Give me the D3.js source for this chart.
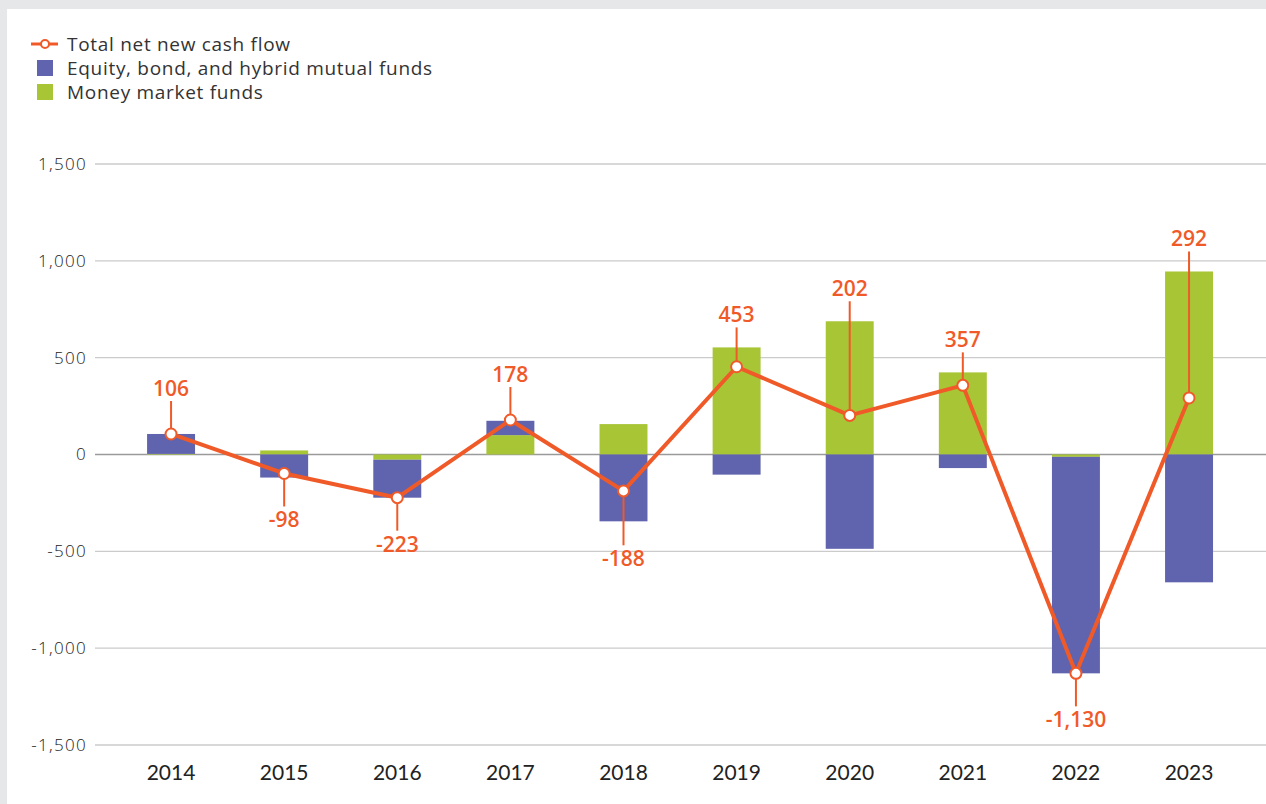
<!DOCTYPE html>
<html>
<head>
<meta charset="utf-8">
<script src="https://cdn.jsdelivr.net/npm/d3@7"></script>
<style>
  html, body { margin: 0; padding: 0; background: #e6e7e8; }
  svg { display: block; }
</style>
</head>
<body>
<svg id="chart" width="1266" height="804"></svg>
<script>
// Chart values
const years = ["2014", "2015", "2016", "2017", "2018", "2019", "2020", "2021", "2022", "2023"];
const moneyMarket = [3, 21, -27, 100, 157, 553, 688, 424, -12, 945];
const longTerm = [103, -119, -196, 74, -345, -104, -487, -70, -1118, -660];
const totalFlow = [106, -98, -223, 178, -188, 453, 202, 357, -1130, 292];
const yTicks = [-1500, -1000, -500, 0, 500, 1000, 1500];
const legendItems = [
  {key: "total", label: "Total net new cash flow"},
  {key: "longTerm", label: "Equity, bond, and hybrid mutual funds"},
  {key: "moneyMarket", label: "Money market funds"}
];

const COLORS = {
  ORANGE: "#f05a28",
  PURPLE: "#6063ad",
  GREEN: "#a8c536",
  GRID: "#cbcbcb",
  ZERO: "#9a9a9a",
  TEXT: "#333333"
};

const svg = d3.select("#chart");

// White panel, gray margin shows at top and left
svg.append("rect")
   .attr("x", 7)
   .attr("y", 9)
   .attr("width", 1266 - 7)
   .attr("height", 804 - 9)
   .style("fill", "#ffffff");

const x = d3.scaleBand()
            .domain(years)
            .range([114.5, 1245.6])
            .paddingInner(0.576)
            .paddingOuter(0.288);

const y = d3.scaleLinear()
            .domain([-1500, 1500])
            .range([745, 164]);

// Gridlines and y tick labels
const grid = svg.append("g");
grid.selectAll("line")
    .data(yTicks)
    .join("line")
    .attr("x1", 95)
    .attr("x2", 1266)
    .attr("y1", d => y(d))
    .attr("y2", d => y(d))
    .style("stroke", d => d === 0 ? COLORS.ZERO : COLORS.GRID)
    .style("stroke-width", "1.4px");

const fmt = d3.format(",");
grid.selectAll("text")
    .data(yTicks)
    .join("text")
    .attr("x", 87)
    .attr("y", d => y(d))
    .attr("dy", "0.35em")
    .attr("text-anchor", "end")
    .style("font-family", "'Open Sans', sans-serif")
    .style("font-weight", 300)
    .style("font-size", "17px")
    .style("letter-spacing", "1.3px")
    .style("fill", "#222222")
    .text(d => fmt(d).replace("−", "-"));

// Stacked bars, money market closest to zero
const rows = years.map((yr, i) => ({year: yr, moneyMarket: moneyMarket[i], longTerm: longTerm[i]}));
const stack = d3.stack()
                .keys(["moneyMarket", "longTerm"])
                .offset(d3.stackOffsetDiverging);
const series = stack(rows);
const fill = {moneyMarket: COLORS.GREEN, longTerm: COLORS.PURPLE};

svg.append("g")
   .selectAll("g")
   .data(series)
   .join("g")
   .style("fill", s => fill[s.key])
   .selectAll("rect")
   .data(s => s)
   .join("rect")
   .attr("x", d => x(d.data.year))
   .attr("width", x.bandwidth())
   .attr("y", d => y(Math.max(d[0], d[1])))
   .attr("height", d => Math.abs(y(d[0]) - y(d[1])));

// X axis labels
svg.append("g")
   .selectAll("text")
   .data(years)
   .join("text")
   .attr("x", d => x(d) + x.bandwidth() / 2)
   .attr("y", 773)
   .attr("dy", "0.35em")
   .attr("text-anchor", "middle")
   .style("font-family", "Lato, sans-serif")
   .style("font-size", "21px")
   .style("fill", "#222222")
   .text(d => d);

// Label leaders: go past the bar end, or at least a bit away from the point
const points = years.map((yr, i) => {
  const cx = x(yr) + x.bandwidth() / 2;
  const cy = y(totalFlow[i]);
  const up = totalFlow[i] >= 0;
  let end;
  if (up) {
    const top = y(Math.max(0, moneyMarket[i]) + Math.max(0, longTerm[i]));
    end = Math.min(top - 20, cy - 33);
  } else {
    const bottom = y(Math.min(0, moneyMarket[i]) + Math.min(0, longTerm[i]));
    end = Math.max(bottom + 24, cy + 33);
  }
  return {cx: cx, cy: cy, up: up, end: end, value: totalFlow[i]};
});

const labels = svg.append("g");
labels.selectAll("line")
      .data(points)
      .join("line")
      .attr("x1", d => d.cx)
      .attr("x2", d => d.cx)
      .attr("y1", d => d.cy)
      .attr("y2", d => d.end)
      .style("stroke", COLORS.ORANGE)
      .style("stroke-width", "2px");

labels.selectAll("text")
      .data(points)
      .join("text")
      .attr("x", d => d.cx)
      .attr("y", d => d.up ? d.end - 5 : d.end + 21)
      .attr("text-anchor", "middle")
      .style("font-family", "'Open Sans', sans-serif")
      .style("font-weight", 600)
      .style("font-size", "21px")
      .style("fill", COLORS.ORANGE)
      .text(d => fmt(d.value).replace("−", "-"));

// Total line with hollow markers
const line = d3.line()
               .x(d => d.cx)
               .y(d => d.cy);

svg.append("path")
   .datum(points)
   .attr("d", line)
   .style("fill", "none")
   .style("stroke", COLORS.ORANGE)
   .style("stroke-width", "4px")
   .style("stroke-linejoin", "round");

svg.append("g")
   .selectAll("circle")
   .data(points)
   .join("circle")
   .attr("cx", d => d.cx)
   .attr("cy", d => d.cy)
   .attr("r", 5.5)
   .style("fill", "#ffffff")
   .style("stroke", COLORS.ORANGE)
   .style("stroke-width", "2px");

// Legend
const legend = svg.append("g");
const rowY = i => 44 + i * 24;

legendItems.forEach((item, i) => {
  const cy = rowY(i);
  if (item.key === "total") {
    legend.append("line")
          .attr("x1", 31)
          .attr("x2", 58)
          .attr("y1", cy)
          .attr("y2", cy)
          .style("stroke", COLORS.ORANGE)
          .style("stroke-width", "3px");
    legend.append("circle")
          .attr("cx", 45)
          .attr("cy", cy)
          .attr("r", 4)
          .style("fill", "#ffffff")
          .style("stroke", COLORS.ORANGE)
          .style("stroke-width", "2px");
  } else {
    legend.append("rect")
          .attr("x", 37)
          .attr("y", cy - 8)
          .attr("width", 16)
          .attr("height", 16)
          .style("fill", item.key === "longTerm" ? COLORS.PURPLE : COLORS.GREEN);
  }
  legend.append("text")
        .attr("x", 67)
        .attr("y", cy)
        .attr("dy", "0.35em")
        .style("font-family", "'Open Sans', sans-serif")
        .style("font-size", "19px")
        .style("letter-spacing", "0.7px")
        .style("fill", COLORS.TEXT)
        .text(item.label);
});
</script>
</body>
</html>
